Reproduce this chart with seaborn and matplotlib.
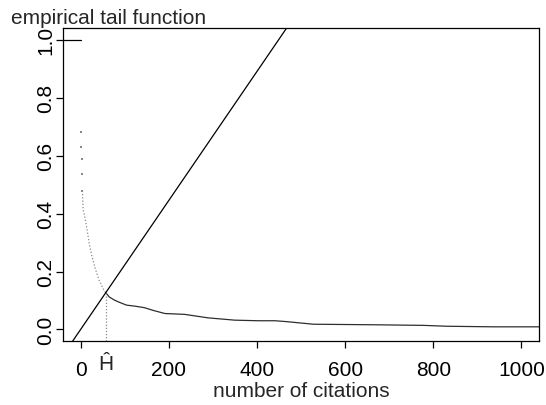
import matplotlib
matplotlib.use("Agg")
import matplotlib.pyplot as plt
import seaborn as sns
import numpy as np

# ---- data ----
n_papers = 449          # total number of papers (slope of the line = 1/n_papers)
h_index = 57            # estimated H (intersection)

# tail function for x < 0
neg_citations = [-100, 0]
neg_tail = [1.0, 1.0]

# first few discrete values (shown as separate dots)
dot_citations = [0, 1, 2, 3, 4]
dot_tail = [0.683, 0.631, 0.590, 0.536, 0.479]

# steep part of the empirical tail function (dense dotted)
steep_citations = [4, 5, 6, 8, 10, 15, 20, 26, 34, 42, 47, 53, 57]
steep_tail = [0.479, 0.433, 0.410, 0.399, 0.385, 0.341, 0.292, 0.250, 0.206, 0.169, 0.155, 0.135, 0.127]

# flat part
flat_citations = [57, 65, 77, 89, 104, 125, 145, 164, 191, 236, 289, 350, 403,
                  441, 467, 528, 672, 778, 831, 937, 1045]
flat_tail = [0.127, 0.112, 0.101, 0.093, 0.084, 0.080, 0.075, 0.066, 0.055, 0.052,
             0.040, 0.032, 0.030, 0.030, 0.027, 0.018, 0.016, 0.014, 0.011, 0.009, 0.009]

x_ticks = [0, 200, 400, 600, 800, 1000]
y_ticks = [0.0, 0.2, 0.4, 0.6, 0.8, 1.0]
y_tick_labels = ["0.0", "0.2", "0.4", "0.6", "0.8", "1.0"]

title_text = "empirical tail function"
x_label = "number of citations"
h_label = "\u0124"   # H with hat

# ---- styling ----
sns.set_style("ticks")
plt.rcParams["font.family"] = ["Liberation Sans", "DejaVu Sans"]
plt.rcParams["font.size"] = 15

fig = plt.figure(figsize=(5.46, 4.06), dpi=100)
ax = fig.add_axes([0.1154, 0.1576, 0.8718, 0.7702])

ax.set_xlim(-40, 1040)
ax.set_ylim(-0.04, 1.04)

# tail = 1 for negative x
sns.lineplot(x=neg_citations, y=neg_tail, ax=ax, color="black", linewidth=0.9)

# discrete top dots
sns.scatterplot(x=dot_citations, y=dot_tail, ax=ax, color="#888888", s=2,
                marker="s", linewidth=0)

# steep dotted part
sns.lineplot(x=steep_citations, y=steep_tail, ax=ax, color="#8a8a8a",
             linewidth=0.9, linestyle=(0, (1, 1.6)), sort=False)

# flat part
sns.lineplot(x=flat_citations, y=flat_tail, ax=ax, color="#2e2e2e",
             linewidth=0.9, sort=False)

# line y = x / n
ax.axline((0, 0), slope=1.0 / n_papers, color="black", linewidth=0.9)

# vertical dotted line at H
ax.vlines(h_index, -0.04, h_index / n_papers, colors="#888888",
          linestyles=(0, (1, 1.5)), linewidth=0.9)

# hat H label under the axis
xtrans = ax.get_xaxis_transform()
ax.text(h_index, (342 - 370) / 312.7, h_label, transform=xtrans, ha="center",
        va="baseline", fontsize=15)

# axes / ticks
for sp in ax.spines.values():
    sp.set_visible(True)
    sp.set_linewidth(0.9)
    sp.set_color("black")

ax.set_xticks(x_ticks)
ax.set_yticks(y_ticks)
ax.set_yticklabels(y_tick_labels)
ax.tick_params(axis="both", direction="out", length=5, width=0.9, colors="black",
               labelsize=15)
ax.tick_params(axis="x", pad=8.5)
ax.tick_params(axis="y", pad=0.5)
for lab in ax.get_yticklabels():
    lab.set_rotation(90)
    lab.set_va("center")
    lab.set_ha("right")

ax.set_xlabel(x_label, fontsize=15)
ax.xaxis.set_label_coords(0.5, (342 - 381.5) / 312.7)
ax.set_ylabel("")

fig.text(10.7 / 546, 1 - 23.5 / 406, title_text, fontsize=15, ha="left",
         va="baseline")

fig.savefig("out.png", dpi=100)
